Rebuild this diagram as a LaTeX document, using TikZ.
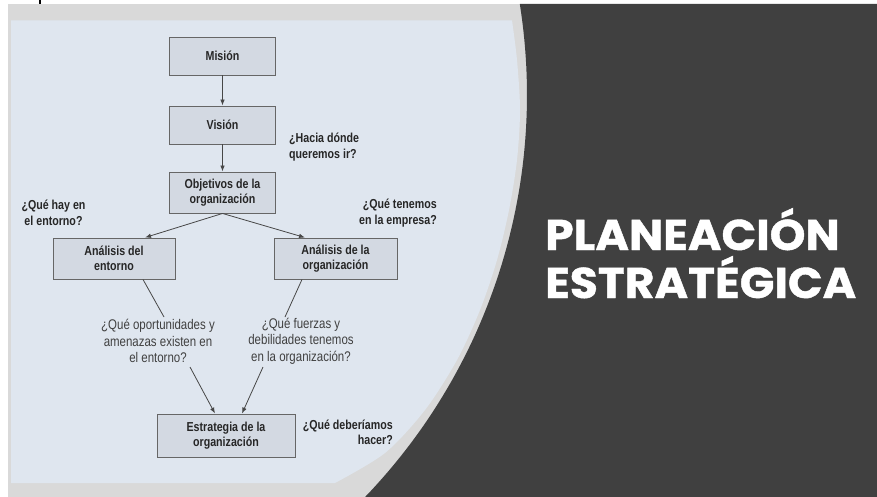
\documentclass[tikz,border=0pt]{standalone}
\usepackage{fontspec}
\usepackage{graphicx}
\setmainfont{Liberation Sans}
\newfontfamily\diag[FakeStretch=0.82]{Liberation Sans}
\newfontfamily\titlefont[FakeBold=1.0]{Poppins}
\usetikzlibrary{arrows.meta}
\definecolor{slidegray}{HTML}{D9D9D9}
\definecolor{panel}{HTML}{DFE6EF}
\definecolor{darkbg}{HTML}{404040}
\definecolor{boxfill}{HTML}{D3D9E2}
\definecolor{boxline}{HTML}{666666}
\definecolor{txt}{HTML}{262626}
\definecolor{qtxt}{HTML}{404040}
\tikzset{
  box/.style={draw=boxline, line width=0.9pt, fill=boxfill, text=txt,
    font=\diag\bfseries\fontsize{13}{15.5}\selectfont, align=center, inner sep=0pt},
  conn/.style={draw=boxline!70!black, line width=0.8pt},
  arr/.style={conn, -{Latex[length=6pt,width=4.5pt]}},
  qreg/.style={font=\diag\fontsize{14}{16.5}\selectfont, text=qtxt, align=center, inner sep=0pt},
  qbold/.style={font=\diag\bfseries\fontsize{13}{15.5}\selectfont, text=txt, inner sep=0pt},
  titletext/.style={font=\titlefont\bfseries\fontsize{43}{48}\selectfont, text=white, inner sep=0pt, anchor=base west}
}
\begin{document}
\begin{tikzpicture}[x=1pt,y=-1pt]
\useasboundingbox (0,0) rectangle (877,497);
% backgrounds
\fill[white] (0,0) rectangle (877,497);
\fill[slidegray] (8,4) rectangle (877,497);
\fill[panel] (11,20.5) -- (512,20.5) -- plot[smooth] coordinates {(512,20.5) (517,60) (520,110) (517,160) (509,210) (497,260) (480,310) (457,360) (425,410) (385,453) (335,483)} -- (11,483) -- cycle;
\fill[darkbg] (877,4) -- (520.8,4) -- plot[domain=-9.03:43.88, samples=60] ({-53+580*cos(\x)}, {95+580*sin(\x)}) -- (877,497) -- cycle;
\fill[black] (39,0) rectangle (41,4.5);
% title
\node[titletext] (t1) at (545,250) {\scalebox{1.06}[1]{PLANEACIÓN}};
\node[titletext] (t2) at (545,298) {\scalebox{1.06}[1]{ESTRATÉGICA}};
% boxes
\node[box, minimum width=106pt, minimum height=38pt] (mision) at (222.5,56) {Misión};
\node[box, minimum width=106pt, minimum height=38pt] (vision) at (222.5,125) {Visión};
\node[box, minimum width=106pt, minimum height=41pt] (objet) at (222.5,192.5) {Objetivos de la\\organización};
\node[box, minimum width=122pt, minimum height=41pt] (entorno) at (114,258.5) {Análisis del\\entorno};
\node[box, minimum width=123pt, minimum height=41pt] (organiz) at (335.5,258.5) {Análisis de la\\organización};
\node[box, minimum width=138pt, minimum height=43pt] (estr) at (226,435.5) {Estrategia de la\\organización};
% labels
\node[qbold, align=left, anchor=west] (hacia) at (289,147) {¿Hacia dónde\\queremos ir?};
\node[qbold, align=center] (hay) at (53.5,213) {¿Qué hay en\\el entorno?};
\node[qbold, align=right, anchor=east] (tenemos) at (437,213) {¿Qué tenemos\\en la empresa?};
\node[qbold, align=right, anchor=east] (deber) at (393,432.5) {¿Qué deberíamos\\hacer?};
\node[qreg] (q1) at (158,341) {¿Qué oportunidades y\\amenazas existen en\\el entorno?};
\node[qreg] (q2) at (301,341) {¿Qué fuerzas y\\debilidades tenemos\\en la organización?};
% connectors
\draw[arr] (mision) -- (vision);
\draw[arr] (vision) -- (objet);
\draw[arr] (objet.south) -- ([xshift=31pt]entorno.north);
\draw[arr] (objet.south) -- ([xshift=-30.5pt]organiz.north);
\coordinate (l1) at (164,317);
\coordinate (l2) at (285,317);
\draw[conn] ([xshift=29pt]entorno.south) -- (l1);
\draw[conn] ([xshift=-33.5pt]organiz.south) -- (l2);
\coordinate (s1) at (190,367);
\coordinate (s2) at (263,367);
\draw[arr] (s1) -- ([xshift=-11pt]estr.north);
\draw[arr] (s2) -- ([xshift=16pt]estr.north);
\end{tikzpicture}
\end{document}
